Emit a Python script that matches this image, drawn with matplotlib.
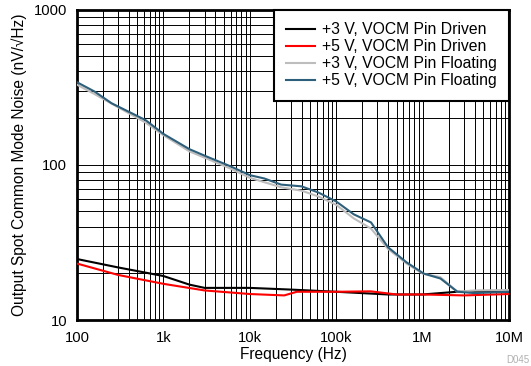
import matplotlib
matplotlib.use("Agg")
import matplotlib.pyplot as plt
from matplotlib.ticker import FixedLocator, LogLocator, NullFormatter

plt.rcParams['font.family'] = ['Liberation Sans', 'DejaVu Sans']

# +5 V, VOCM pin floating
f_float5 = [100, 160, 251, 621, 1e3, 2e3, 3.16e3, 5.9e3, 10e3, 14.7e3, 23e3, 39.6e3,
            62e3, 100e3, 160e3, 253e3, 398e3, 653e3, 1.03e6, 1.61e6, 2.53e6, 4e6, 10e6]
n_float5 = [340, 296, 249, 194, 158, 126, 113, 98, 85.7, 81.6, 74.5, 72.6,
            66.3, 58, 47.9, 42.5, 29.4, 23.5, 19.9, 18.5, 15.2, 14.9, 15.2]

# +3 V, VOCM pin floating
f_float3 = [100, 160, 621, 1e3, 2e3, 5.9e3, 10e3, 23e3, 40e3, 62e3, 100e3, 160e3,
            253e3, 398e3, 653e3, 1e6, 1.6e6, 2.53e6, 4e6, 10e6]
n_float3 = [328, 285, 187, 155, 122, 94.8, 82.4, 71.6, 68, 62.5, 55.2, 45.1,
            38.8, 28.7, 23.1, 19.9, 18.9, 15.2, 15.5, 15.6]

# +3 V, VOCM pin driven
f_drv3 = [100, 300, 1e3, 2e3, 3e3, 10e3, 30e3, 100e3, 400e3, 1e6, 2.5e6, 10e6]
n_drv3 = [24.7, 21.8, 19.2, 16.9, 16.1, 16.1, 15.7, 15.2, 14.6, 14.6, 15.2, 15.2]

# +5 V, VOCM pin driven
f_drv5 = [100, 300, 1e3, 3e3, 10e3, 25e3, 35e3, 100e3, 250e3, 500e3, 1e6, 3e6, 10e6]
n_drv5 = [23.1, 19.5, 17.1, 15.5, 14.7, 14.4, 15.2, 15.2, 15.3, 14.6, 14.6, 14.4, 14.7]

xticks = [100, 1e3, 1e4, 1e5, 1e6, 1e7]
xticklabels = ['100', '1k', '10k', '100k', '1M', '10M']
yticks = [10, 100, 1000]
yticklabels = ['10', '100', '1000']

fig = plt.figure(figsize=(5.31, 3.66), dpi=100)
ax = fig.add_axes([77 / 531, 1 - 320 / 366, 432 / 531, 310.5 / 366])

ax.plot(f_drv3, n_drv3, color='black', lw=1.5, label='+3 V, VOCM Pin Driven', zorder=3)
ax.plot(f_drv5, n_drv5, color='#ff0000', lw=1.5, label='+5 V, VOCM Pin Driven', zorder=4)
ax.plot(f_float3, n_float3, color='#bdbdbd', lw=1.5, label='+3 V, VOCM Pin Floating', zorder=3)
ax.plot(f_float5, n_float5, color='#2e5f7a', lw=1.5, label='+5 V, VOCM Pin Floating', zorder=4)

ax.set_xscale('log')
ax.set_yscale('log')
ax.set_xlim(100, 1e7)
ax.set_ylim(10, 1000)

ax.xaxis.set_major_locator(FixedLocator(xticks))
ax.set_xticklabels(xticklabels)
ax.yaxis.set_major_locator(FixedLocator(yticks))
ax.set_yticklabels(yticklabels)
ax.xaxis.set_minor_locator(LogLocator(base=10, subs=range(2, 10)))
ax.yaxis.set_minor_locator(LogLocator(base=10, subs=range(2, 10)))
ax.xaxis.set_minor_formatter(NullFormatter())
ax.yaxis.set_minor_formatter(NullFormatter())
ax.tick_params(which='both', length=0, labelsize=10.6)
ax.tick_params(axis='x', pad=8)
ax.tick_params(axis='y', pad=7)

ax.grid(True, which='both', color='black', lw=0.7)
for s in ax.spines.values():
    s.set_linewidth(2)

ax.set_xlabel('Frequency (Hz)', fontsize=11.2, labelpad=1)
ax.set_ylabel('Output Spot Common Mode Noise (nV/\u221aHz)', fontsize=11.2, labelpad=5)

leg = ax.legend(loc='upper right', fontsize=11.3, frameon=True, fancybox=False,
                borderaxespad=0, handlelength=1.8, labelspacing=0.13,
                borderpad=0.8, handletextpad=0.45)
leg.get_frame().set_edgecolor('black')
leg.get_frame().set_linewidth(1.5)
leg.get_frame().set_alpha(1)

fig.text(506 / 531, 1 - 360 / 366, 'D045', fontsize=7, color='#b0b0b0', ha='left', va='center')

fig.savefig('out.png', dpi=100)
